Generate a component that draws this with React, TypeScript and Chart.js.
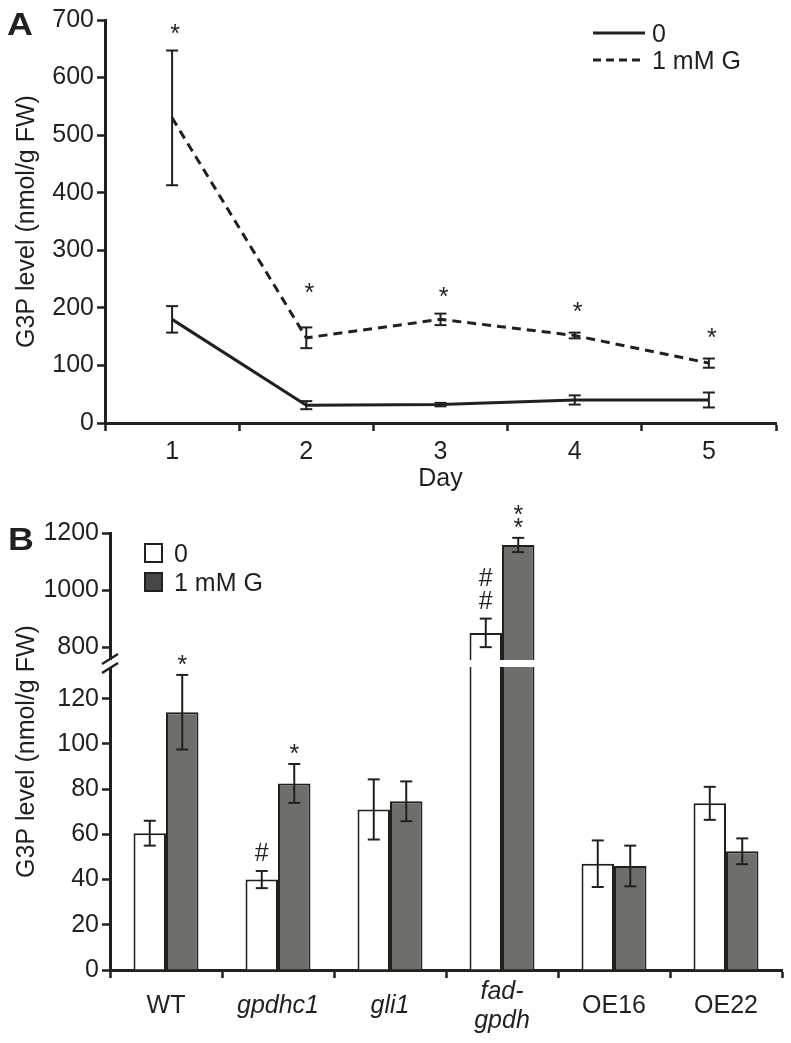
import React, { useEffect, useRef } from 'react';
import { Chart, registerables } from 'chart.js';

Chart.register(...registerables);

const FONT = "'Liberation Sans', Arial, Helvetica, sans-serif";
const INK = '#231f20';
const GRAY = '#6e6e6a';
const LEGEND_DARK = '#474745';
const FS = 25;

// ---------- Panel A data ----------
const days = ['1', '2', '3', '4', '5'];
const ctrlMean = [180, 31, 32, 40, 40];
const ctrlErr = [23, 7, 3, 8, 13];
const glyMean = [530, 148, 180, 152, 104];
const glyErr = [117, 18, 10, 5, 8];
const starAAt = [685, 235, 228, 202, 157];
const yTicksA = [0, 100, 200, 300, 400, 500, 600, 700];

// ---------- Panel B data ----------
const genotypes: (string | string[])[] = ['WT', 'gpdhc1', 'gli1', ['fad-', 'gpdh'], 'OE16', 'OE22'];
const italicGenotype = [false, true, true, true, false, false];
const b0Mean = [60.5, 40, 71, 850, 47, 73.7];
const b0Err = [5.5, 3.8, 13.3, 50, 10.3, 7.3];
const b1Mean = [114, 82.5, 74.6, 1158, 46, 52.5];
const b1Err = [16.5, 8.6, 8.8, 25, 9, 5.7];
const b0Marks = [[], ['#'], [], ['#', '#'], [], []];
const b1Marks = [['*'], ['*'], [], ['*', '*'], [], []];
const yTicksB = [0, 20, 40, 60, 80, 100, 120, 800, 1000, 1200];
const breakLow = 134;
const breakHigh = 755;
const gapUnits = 3.1;
const upperScale = 0.1262;

const toAxis = (v: number) => (v <= breakLow ? v : breakLow + gapUnits + (v - breakHigh) * upperScale);

Chart.defaults.font.family = FONT;
Chart.defaults.color = INK;

function line(ctx: CanvasRenderingContext2D, x1: number, y1: number, x2: number, y2: number) {
  ctx.beginPath();
  ctx.moveTo(x1, y1);
  ctx.lineTo(x2, y2);
  ctx.stroke();
}

function errorBar(ctx: CanvasRenderingContext2D, x: number, top: number, bot: number, cap: number) {
  line(ctx, x, top, x, bot);
  line(ctx, x - cap, top, x + cap, top);
  line(ctx, x - cap, bot, x + cap, bot);
}

// draw text whose visual (ink) centre is at (x, y)
function centeredText(ctx: CanvasRenderingContext2D, t: string, x: number, y: number) {
  const m = ctx.measureText(t);
  ctx.textAlign = 'center';
  ctx.textBaseline = 'alphabetic';
  ctx.fillText(t, x, y + (m.actualBoundingBoxAscent - m.actualBoundingBoxDescent) / 2);
}

function leftMidText(ctx: CanvasRenderingContext2D, t: string, x: number, y: number) {
  const m = ctx.measureText(t);
  ctx.textAlign = 'left';
  ctx.textBaseline = 'alphabetic';
  ctx.fillText(t, x, y + (m.actualBoundingBoxAscent - m.actualBoundingBoxDescent) / 2);
}

function panelLetter(ctx: CanvasRenderingContext2D, t: string, x: number, baseline: number) {
  ctx.save();
  ctx.fillStyle = INK;
  ctx.font = `bold 32px ${FONT}`;
  ctx.textAlign = 'left';
  ctx.textBaseline = 'alphabetic';
  ctx.translate(x, baseline);
  ctx.scale(1.12, 0.96);
  ctx.fillText(t, 0, 0);
  ctx.restore();
}

const axisGrid = {
  display: true,
  drawOnChartArea: false,
  drawTicks: true,
  tickLength: 8,
  tickWidth: 2.5,
  color: INK,
};
const axisBorder = { display: true, width: 3, color: INK };

function PanelA() {
  const ref = useRef<HTMLCanvasElement>(null);
  useEffect(() => {
    const extras = {
      id: 'extrasA',
      afterDatasetsDraw(chart: any) {
        const { ctx, scales } = chart;
        const x = scales.x;
        const y = scales.y;
        ctx.save();
        ctx.strokeStyle = INK;
        ctx.lineWidth = 2;
        const series: [number[], number[]][] = [
          [ctrlMean, ctrlErr],
          [glyMean, glyErr],
        ];
        series.forEach(([m, e]) => {
          m.forEach((v, i) => {
            const px = x.getPixelForValue(i);
            errorBar(ctx, px, y.getPixelForValue(v + e[i]), y.getPixelForValue(v - e[i]), 6);
          });
        });
        ctx.fillStyle = INK;
        ctx.font = `${FS}px ${FONT}`;
        starAAt.forEach((v, i) => {
          centeredText(ctx, '*', x.getPixelForValue(i) + 3, y.getPixelForValue(v));
        });
        ctx.restore();
      },
      afterDraw(chart: any) {
        const { ctx } = chart;
        panelLetter(ctx, 'A', 7, 35);
        ctx.save();
        ctx.fillStyle = INK;
        // legend
        ctx.strokeStyle = INK;
        ctx.lineWidth = 3;
        line(ctx, 593, 33, 645, 33);
        ctx.setLineDash([8, 5]);
        line(ctx, 593, 60, 645, 60);
        ctx.setLineDash([]);
        ctx.font = `${FS}px ${FONT}`;
        leftMidText(ctx, '0', 652, 33);
        leftMidText(ctx, '1 mM G', 652, 60);
        ctx.restore();
      },
    };
    const chart = new Chart(ref.current!, {
      type: 'line',
      data: {
        labels: days,
        datasets: [
          { label: '0', data: ctrlMean, borderColor: INK, borderWidth: 3, pointRadius: 0, fill: false, tension: 0 },
          { label: '1 mM G', data: glyMean, borderColor: INK, borderWidth: 3, borderDash: [9, 6], pointRadius: 0, fill: false, tension: 0 },
        ],
      },
      options: {
        responsive: false,
        animation: false,
        layout: { padding: { top: 20, right: 15, left: 0, bottom: 0 } },
        plugins: { legend: { display: false }, tooltip: { enabled: false } },
        scales: {
          x: {
            type: 'category',
            offset: true,
            grid: { ...axisGrid, offset: true },
            border: axisBorder,
            ticks: { font: { size: FS }, color: INK, padding: 6, maxRotation: 0 },
            title: { display: true, text: 'Day', font: { size: FS }, color: INK, padding: { top: 0, bottom: 6 } },
            afterFit: (s: any) => {
              s.height = 77;
            },
          },
          y: {
            type: 'linear',
            min: 0,
            max: 700,
            afterBuildTicks: (s: any) => {
              s.ticks = yTicksA.map((v) => ({ value: v }));
            },
            grid: axisGrid,
            border: axisBorder,
            ticks: { font: { size: FS }, color: INK, padding: 3 },
            title: { display: true, text: 'G3P level (nmol/g FW)', font: { size: FS }, color: INK, padding: { top: 12, bottom: 0 } },
            afterFit: (s: any) => {
              s.width = 105;
            },
          },
        },
      } as any,
      plugins: [extras],
    });
    return () => chart.destroy();
  }, []);
  return <canvas ref={ref} width={791} height={500} style={{ display: 'block' }} />;
}

function PanelB() {
  const ref = useRef<HTMLCanvasElement>(null);
  useEffect(() => {
    const extras = {
      id: 'extrasB',
      afterDatasetsDraw(chart: any) {
        const { ctx, scales, chartArea } = chart;
        const y = scales.y;
        ctx.save();
        // axis break gap
        const gTop = y.getPixelForValue(breakLow + gapUnits);
        const gBot = y.getPixelForValue(breakLow);
        ctx.fillStyle = '#ffffff';
        ctx.fillRect(chartArea.left - 3, gTop, chartArea.right - chartArea.left + 3, gBot - gTop);
        // break marks
        ctx.strokeStyle = INK;
        ctx.lineWidth = 2.5;
        const ax = chartArea.left;
        line(ctx, ax - 8, gTop + 4, ax + 8, gTop - 6);
        line(ctx, ax - 8, gBot + 6, ax + 8, gBot - 4);
        // error bars + marks
        ctx.lineWidth = 2;
        ctx.fillStyle = INK;
        ctx.font = `${FS}px ${FONT}`;
        const sets: [number[], number[], string[][]][] = [
          [b0Mean, b0Err, b0Marks],
          [b1Mean, b1Err, b1Marks],
        ];
        sets.forEach(([m, e, marks], di) => {
          const meta = chart.getDatasetMeta(di);
          m.forEach((v, i) => {
            const px = meta.data[i].x;
            const top = y.getPixelForValue(toAxis(v + e[i]));
            errorBar(ctx, px, top, y.getPixelForValue(toAxis(v - e[i])), 6);
            let base = top - 10;
            marks[i].forEach((t) => {
              const mm = ctx.measureText(t);
              const h = mm.actualBoundingBoxAscent + mm.actualBoundingBoxDescent;
              centeredText(ctx, t, px, base - h / 2);
              base -= h * 1.28;
            });
          });
        });
        ctx.restore();
      },
      afterDraw(chart: any) {
        const { ctx } = chart;
        panelLetter(ctx, 'B', 8, 50);
        ctx.save();
        // legend
        ctx.lineWidth = 2;
        ctx.strokeStyle = INK;
        ctx.fillStyle = '#ffffff';
        ctx.fillRect(145, 44, 17, 18);
        ctx.strokeRect(145, 44, 17, 18);
        ctx.fillStyle = LEGEND_DARK;
        ctx.fillRect(145, 73, 17, 18);
        ctx.strokeRect(145, 73, 17, 18);
        ctx.fillStyle = INK;
        ctx.font = `${FS}px ${FONT}`;
        leftMidText(ctx, '0', 174, 53);
        leftMidText(ctx, '1 mM G', 174, 82);
        ctx.restore();
      },
    };
    const chart = new Chart(ref.current!, {
      type: 'bar',
      data: {
        labels: genotypes,
        datasets: [
          { label: '0', data: b0Mean.map(toAxis), backgroundColor: '#ffffff', borderColor: INK, borderWidth: 2 },
          { label: '1 mM G', data: b1Mean.map(toAxis), backgroundColor: GRAY, borderColor: INK, borderWidth: 2 },
        ],
      },
      options: {
        responsive: false,
        animation: false,
        layout: { padding: { top: 33, right: 9, left: 0, bottom: 0 } },
        plugins: { legend: { display: false }, tooltip: { enabled: false } },
        datasets: { bar: { categoryPercentage: 0.58, barPercentage: 1 } },
        scales: {
          x: {
            type: 'category',
            offset: true,
            grid: { ...axisGrid, offset: true },
            border: axisBorder,
            ticks: {
              font: (c: any) => ({ size: FS, style: italicGenotype[c.index] ? 'italic' : 'normal', lineHeight: 1.15 }),
              color: INK,
              padding: 14,
              maxRotation: 0,
              autoSkip: false,
              crossAlign: 'center',
            },
            afterFit: (s: any) => {
              s.height = 73;
            },
          },
          y: {
            type: 'linear',
            min: 0,
            max: toAxis(1200),
            afterBuildTicks: (s: any) => {
              s.ticks = yTicksB.map((v) => ({ value: toAxis(v) }));
            },
            grid: axisGrid,
            border: axisBorder,
            ticks: {
              font: { size: FS },
              color: INK,
              padding: 3,
              callback: (val: number) => {
                const i = yTicksB.findIndex((t) => Math.abs(toAxis(t) - val) < 1e-6);
                return i >= 0 ? String(yTicksB[i]) : '';
              },
            },
            title: { display: true, text: 'G3P level (nmol/g FW)', font: { size: FS }, color: INK, padding: { top: 12, bottom: 0 } },
            afterFit: (s: any) => {
              s.width = 110;
            },
          },
        },
      } as any,
      plugins: [extras],
    });
    return () => chart.destroy();
  }, []);
  return <canvas ref={ref} width={791} height={543} style={{ display: 'block' }} />;
}

export default function App() {
  return (
    <div style={{ position: 'absolute', left: 0, top: 0, width: 791, height: 1043, background: '#ffffff' }}>
      <PanelA />
      <PanelB />
    </div>
  );
}
